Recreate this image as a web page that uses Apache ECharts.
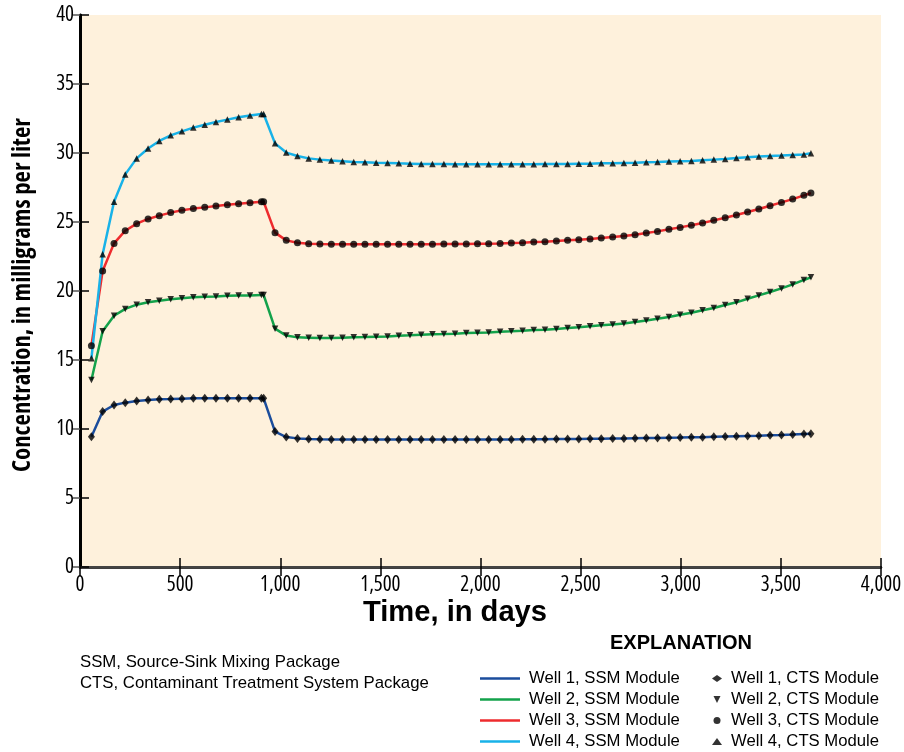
<!DOCTYPE html>
<html>
<head>
<meta charset="utf-8">
<script src="https://cdn.jsdelivr.net/npm/echarts@6/dist/echarts.min.js"></script>
<style>
html,body{margin:0;padding:0;background:#fff;overflow:hidden;}
#chart{width:904px;height:752px;}
</style>
</head>
<body>
<div id="chart"></div>
<script>
// Time of each output step, in days
var times = [57,113,170,226,283,340,396,453,509,566,623,679,736,792,849,906,917,
  974,1030,1086,1142,1198,1255,1311,1367,1423,1479,1536,1592,1648,1704,1760,1817,
  1873,1929,1985,2041,2098,2154,2210,2266,2322,2379,2435,2491,2547,2603,2660,2716,
  2772,2828,2884,2941,2997,3053,3109,3165,3222,3278,3334,3390,3446,3503,3559,3615,3650];

// Concentrations, mg/L
var well1 = [9.44,11.26,11.74,11.91,12.03,12.10,12.15,12.17,12.20,12.22,12.22,12.22,12.22,12.22,12.22,12.22,12.22,
  9.81,9.42,9.32,9.27,9.25,
  9.24,9.24,9.24,9.24,9.24,9.24,9.24,9.24,9.24,9.24,9.24,9.24,9.24,9.24,9.24,9.24,9.24,
  9.25,9.25,9.26,9.27,9.27,9.28,9.29,9.30,9.31,9.32,9.33,9.34,9.35,9.37,9.38,9.40,9.41,
  9.43,9.45,9.47,9.49,9.51,9.54,9.57,9.60,9.64,9.66];
var well2 = [13.55,17.08,18.21,18.70,19.01,19.18,19.30,19.40,19.47,19.54,19.59,19.61,19.66,19.68,19.68,19.71,19.71,
  17.27,16.77,16.64,16.62,16.59,16.59,16.62,16.64,16.66,16.69,16.71,16.76,16.79,16.83,16.86,16.88,
  16.91,16.95,16.98,17.00,17.05,17.08,17.12,17.17,17.20,17.24,17.32,17.37,17.44,17.51,17.58,17.65,
  17.75,17.87,17.99,18.11,18.28,18.43,18.60,18.77,18.98,19.18,19.44,19.68,19.93,20.19,20.48,20.80,20.99];
var well3 = [16.04,21.45,23.45,24.37,24.88,25.22,25.46,25.68,25.85,25.97,26.06,26.16,26.25,26.33,26.40,26.47,26.47,
  24.23,23.67,23.50,23.43,23.40,
  23.38,23.38,23.38,23.38,23.38,23.38,23.38,23.38,23.38,23.38,
  23.40,23.40,23.40,23.43,23.43,23.45,23.48,23.50,23.55,23.57,23.62,23.67,23.72,23.77,23.84,23.91,23.98,
  24.08,24.20,24.32,24.47,24.61,24.76,24.93,25.12,25.31,25.51,25.72,25.94,26.18,26.42,26.66,26.93,27.10];
var well4 = [15.12,22.66,26.47,28.45,29.61,30.33,30.87,31.28,31.57,31.84,32.05,32.25,32.42,32.59,32.71,32.83,32.83,
  30.70,30.03,29.78,29.61,29.52,29.45,29.40,29.35,29.33,29.30,29.28,29.25,29.23,29.20,29.20,29.20,
  29.18,29.18,29.18,29.18,29.18,29.18,29.18,29.18,
  29.20,29.20,29.20,29.23,29.23,29.25,29.25,29.28,29.30,29.33,29.35,29.38,29.40,29.42,29.47,29.52,
  29.57,29.64,29.69,29.74,29.78,29.81,29.86,29.90,29.98];

var wellNames = ['Well 1','Well 2','Well 3','Well 4'];
var lineColors = ['#1b4d9c','#13a24b','#ee2b2e','#18b2e8'];
var ctsSymbols = ['diamond','triangle','circle','triangle'];
var ctsLegendIcons = ['diamond','path://M0,0L10,0L5,10Z','circle','triangle'];
var ctsSizes = [[7,9],6.5,7,6.5];
var ctsRotate = [0,180,0,0];
var xTicks = [0,500,1000,1500,2000,2500,3000,3500,4000];
var yTicks = [0,5,10,15,20,25,30,35,40];
var xTitle = 'Time, in days';
var yTitle = 'Concentration, in milligrams per liter';
var notes = ['SSM, Source-Sink Mixing Package','CTS, Contaminant Treatment System Package'];

var allWells = [well1, well2, well3, well4];
allWells.forEach(function(w, i){
  if (w.length !== times.length) throw new Error('length mismatch well' + (i+1) + ': ' + w.length + ' vs ' + times.length);
});

// ---- font selection (look for a condensed face, fall back to Liberation Sans) ----
var mctx = document.createElement('canvas').getContext('2d');
function mw(font, text){ mctx.font = font; return mctx.measureText(text).width; }
var CANDS = [
  ['semi-condensed', "'Noto Sans'"], ['condensed', "'Noto Sans'"], ['extra-condensed', "'Noto Sans'"],
  ['normal', "'Noto Sans Condensed'"], ['normal', "'Noto Sans SemiCondensed'"],
  ['normal', "'Liberation Sans Narrow'"], ['normal', "'Roboto Condensed'"], ['condensed', "'Roboto'"],
  ['condensed', "'Open Sans'"], ['normal', "'Open Sans Condensed'"], ['normal', "'Arial Narrow'"]
];
function pickCondensed(weight){
  var probe = 'Concentration, in milligrams 1,000';
  var base = mw(weight + " 100px 'Liberation Sans'", probe);
  var best = { style: 'normal', family: "'Liberation Sans'", ok: false };
  var bestD = Math.abs(1 - 0.82);
  CANDS.forEach(function(c){
    var fam = c[1] + ", 'DejaVu Sans'";
    var wN = mw(c[0] + " normal 100px " + fam, probe);
    var wB = mw(c[0] + " bold 100px " + fam, probe);
    if (wB / wN < 1.02) return; // only one weight available: not a true regular/bold pair
    var r = (weight === 'bold' ? wB : wN) / base;
    var d = Math.abs(r - 0.82);
    if (r < 0.97 && d < bestD) { bestD = d; best = { style: c[0], family: fam, ok: true }; }
  });
  return best;
}
var CONDB = pickCondensed('bold');
var CONDN = pickCondensed('normal');
var REG = "'Liberation Sans', Arial, sans-serif";
function fitSize(style, weight, family, text, target){
  return target / (mw(style + ' ' + weight + ' 100px ' + family, text) / 100);
}
var tickSize = Math.min(21, fitSize(CONDN.style, 'normal', CONDN.family, '1,000', 41));
var yTitleSize = Math.min(26, fitSize(CONDB.style, 'bold', CONDB.family, yTitle, 354));
var xTitleSize = fitSize('normal', 'bold', REG, xTitle, 184);
var explSize = fitSize('normal', 'bold', REG, 'EXPLANATION', 142);
var legSize = fitSize('normal', 'normal', REG, 'Well 1, SSM Module', 151);
var noteSize = fitSize('normal', 'normal', REG, notes[0], 260);

function pairs(w){ return times.map(function(t, k){ return [t, w[k]]; }); }

var series = [];
allWells.forEach(function(w, i){
  series.push({
    name: wellNames[i] + ', SSM Module',
    type: 'line', data: pairs(w),
    symbol: 'none', showSymbol: false,
    lineStyle: { color: lineColors[i], width: 2.5 },
    itemStyle: { color: lineColors[i] },
    z: 2, silent: true, animation: false
  });
});
allWells.forEach(function(w, i){
  series.push({
    name: wellNames[i] + ', CTS Module',
    type: 'scatter', data: pairs(w),
    symbol: ctsSymbols[i], symbolSize: ctsSizes[i], symbolRotate: ctsRotate[i],
    itemStyle: { color: '#000' },
    z: 3, silent: true, animation: false
  });
});

function fmtThousands(v){ return String(v).replace(/\B(?=(\d{3})+(?!\d))/g, ','); }

var tickLabelStyle = { fontFamily: CONDN.family, fontStyle: CONDN.style, fontWeight: 'normal', fontSize: tickSize, color: '#000' };

var chart = echarts.init(document.getElementById('chart'), null, {renderer: 'canvas'});
chart.setOption({
  backgroundColor: '#ffffff',
  animation: false,
  grid: { left: 80, right: 23, top: 15, bottom: 185, show: true, backgroundColor: '#fef1dc', borderWidth: 0,
          containLabel: false, outerBoundsMode: 'none' },
  xAxis: [{
    type: 'value', min: xTicks[0], max: xTicks[xTicks.length-1], interval: 500,
    axisLine: { show: true, onZero: false, lineStyle: { color: '#000', width: 2.5 } },
    axisTick: { show: true, inside: true, length: 9, lineStyle: { color: '#000', width: 1.5 } },
    splitLine: { show: false },
    axisLabel: Object.assign({ formatter: fmtThousands, margin: 8 }, tickLabelStyle)
  }, {
    type: 'value', position: 'top', min: xTicks[0], max: xTicks[xTicks.length-1], interval: 500,
    axisLine: { show: true, lineStyle: { color: '#444', width: 2 } },
    axisTick: { show: true, inside: true, length: 9, lineStyle: { color: '#000', width: 1.5 } },
    axisLabel: { show: false }, splitLine: { show: false }
  }],
  yAxis: [{
    type: 'value', min: yTicks[0], max: yTicks[yTicks.length-1], interval: 5,
    axisLine: { show: true, onZero: false, lineStyle: { color: '#000', width: 2.5 } },
    axisTick: { show: true, inside: true, length: 9, lineStyle: { color: '#000', width: 1.5 } },
    splitLine: { show: false },
    axisLabel: Object.assign({ margin: 6 }, tickLabelStyle)
  }, {
    type: 'value', position: 'right', min: yTicks[0], max: yTicks[yTicks.length-1], interval: 5,
    axisLine: { show: true, lineStyle: { color: '#000', width: 3 } },
    axisTick: { show: true, inside: true, length: 7, lineStyle: { color: '#555', width: 1.5 } },
    axisLabel: { show: false }, splitLine: { show: false }
  }],
  legend: [{
    data: series.slice(0,4).map(function(s){ return { name: s.name, icon: 'rect' }; }),
    orient: 'vertical', left: 480, top: 668, itemGap: 0,
    itemWidth: 40, itemHeight: 2.5,
    textStyle: { fontFamily: REG, fontSize: legSize, color: '#000', lineHeight: 21, padding: [0,0,0,4] },
    selectedMode: false, padding: 0
  }, {
    data: series.slice(4).map(function(s, i){ return { name: s.name, icon: ctsLegendIcons[i] }; }),
    orient: 'vertical', left: 712, top: 668, itemGap: 0,
    itemWidth: 10, itemHeight: 7,
    textStyle: { fontFamily: REG, fontSize: legSize, color: '#000', lineHeight: 21, padding: [0,0,0,4] },
    selectedMode: false, padding: 0
  }],
  graphic: [
    { type: 'text', x: 455, y: 613, style: { text: xTitle, font: 'bold ' + xTitleSize.toFixed(2) + 'px ' + REG, fill: '#000', align: 'center', verticalAlign: 'middle' } },
    { type: 'text', x: 23, y: 295, rotation: Math.PI / 2,
      style: { text: yTitle, font: CONDB.style + ' bold ' + yTitleSize.toFixed(2) + 'px ' + CONDB.family, fill: '#000', align: 'center', verticalAlign: 'middle' } },
    { type: 'text', x: 610, y: 643, style: { text: 'EXPLANATION', font: 'bold ' + explSize.toFixed(2) + 'px ' + REG, fill: '#000', verticalAlign: 'middle' } },
    { type: 'text', x: 80, y: 662, style: { text: notes[0], font: noteSize.toFixed(2) + 'px ' + REG, fill: '#000', verticalAlign: 'middle' } },
    { type: 'text', x: 80, y: 683, style: { text: notes[1], font: noteSize.toFixed(2) + 'px ' + REG, fill: '#000', verticalAlign: 'middle' } }
  ],
  series: series
});
</script>
</body>
</html>
